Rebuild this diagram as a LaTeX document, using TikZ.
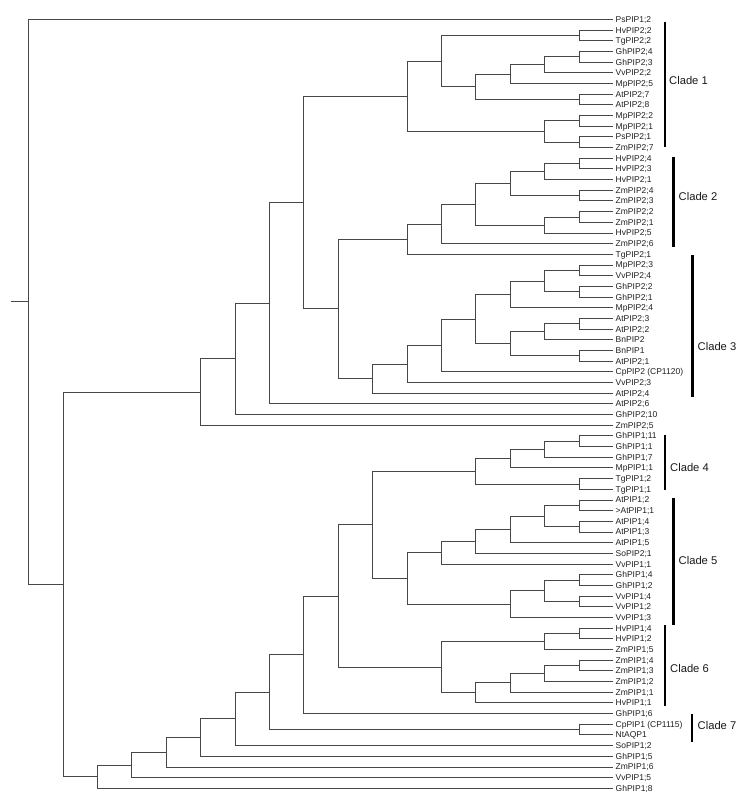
\documentclass[tikz,border=0pt]{standalone}
\usepackage{fontspec}
\setmainfont{Liberation Sans}
\usetikzlibrary{calc}
\tikzset{
  br/.style={draw=black!72, line width=0.75pt},
  leaf/.style={anchor=west, inner xsep=2.5pt, inner ysep=0pt, text height=6.1pt, text depth=0pt,
               font=\fontsize{8.5}{9}\selectfont, text=black!88},
  cbar/.style={draw=black, line width=2.6pt},
  clab/.style={anchor=west, inner sep=0pt, font=\fontsize{11.2}{13}\selectfont, text=black!90},
}
\newcommand\jn[4]{%
  \coordinate (tmp) at ($(#3)!.5!(#4)$);
  \coordinate (#1) at (tmp -| #2);
  \draw[br] (#1) |- (#3);
  \draw[br] (#1) |- (#4);
}
\begin{document}
\begin{tikzpicture}[x=1pt,y=-1pt]
\useasboundingbox (0,0) rectangle (750,800);
\foreach \k in {0,...,16} \coordinate (L\k) at ({28.5+34.4*\k},0);
\coordinate (S) at (11,0);
\foreach \t [count=\i] in {PsPIP1;2, HvPIP2;2, TgPIP2;2, GhPIP2;4, GhPIP2;3, VvPIP2;2, MpPIP2;5,
  AtPIP2;7, AtPIP2;8, MpPIP2;2, MpPIP2;1, PsPIP2;1, ZmPIP2;7, HvPIP2;4, HvPIP2;3, HvPIP2;1,
  ZmPIP2;4, ZmPIP2;3, ZmPIP2;2, ZmPIP2;1, HvPIP2;5, ZmPIP2;6, TgPIP2;1, MpPIP2;3, VvPIP2;4,
  GhPIP2;2, GhPIP2;1, MpPIP2;4, AtPIP2;3, AtPIP2;2, BnPIP2, BnPIP1, AtPIP2;1, CpPIP2 (CP1120),
  VvPIP2;3, AtPIP2;4, AtPIP2;6, GhPIP2;10, ZmPIP2;5, GhPIP1;11, GhPIP1;1, GhPIP1;7, MpPIP1;1,
  TgPIP1;2, TgPIP1;1, AtPIP1;2, >AtPIP1;1, AtPIP1;4, AtPIP1;3, AtPIP1;5, SoPIP2;1, VvPIP1;1,
  GhPIP1;4, GhPIP1;2, VvPIP1;4, VvPIP1;2, VvPIP1;3, HvPIP1;4, HvPIP1;2, ZmPIP1;5, ZmPIP1;4,
  ZmPIP1;3, ZmPIP1;2, ZmPIP1;1, HvPIP1;1, GhPIP1;6, CpPIP1 (CP1115), NtAQP1, SoPIP1;2,
  GhPIP1;5, ZmPIP1;6, VvPIP1;5, GhPIP1;8}
  \node[leaf] (l\i) at (613,{19.3+10.68*(\i-1)}) {\t};

% Clade 1
\jn{c1a}{L16}{l2.west}{l3.west}
\jn{c1b}{L16}{l4.west}{l5.west}
\jn{c1c}{L15}{c1b}{l6.west}
\jn{c1d}{L14}{c1c}{l7.west}
\jn{c1e}{L16}{l8.west}{l9.west}
\jn{c1f}{L13}{c1d}{c1e}
\jn{c1g}{L12}{c1a}{c1f}
\jn{c1h}{L16}{l10.west}{l11.west}
\jn{c1i}{L16}{l12.west}{l13.west}
\jn{c1j}{L15}{c1h}{c1i}
\jn{c1}{L11}{c1g}{c1j}
% Clade 2
\jn{c2a}{L16}{l14.west}{l15.west}
\jn{c2b}{L15}{c2a}{l16.west}
\jn{c2c}{L16}{l17.west}{l18.west}
\jn{c2d}{L14}{c2b}{c2c}
\jn{c2e}{L16}{l19.west}{l20.west}
\jn{c2f}{L15}{c2e}{l21.west}
\jn{c2g}{L13}{c2d}{c2f}
\jn{c2h}{L12}{c2g}{l22.west}
\jn{c2}{L11}{c2h}{l23.west}
% Clade 3
\jn{c3a}{L16}{l24.west}{l25.west}
\jn{c3b}{L16}{l26.west}{l27.west}
\jn{c3c}{L15}{c3a}{c3b}
\jn{c3d}{L14}{c3c}{l28.west}
\jn{c3e}{L16}{l29.west}{l30.west}
\jn{c3f}{L15}{c3e}{l31.west}
\jn{c3g}{L16}{l32.west}{l33.west}
\jn{c3h}{L14}{c3f}{c3g}
\jn{c3i}{L13}{c3d}{c3h}
\jn{c3j}{L12}{c3i}{l34.west}
\jn{c3k}{L11}{c3j}{l35.west}
\jn{c3}{L10}{c3k}{l36.west}
% upper backbone
\jn{u9}{L9}{c2}{c3}
\jn{u8}{L8}{c1}{u9}
\jn{u7}{L7}{u8}{l37.west}
\jn{u6}{L6}{u7}{l38.west}
\jn{u5}{L5}{u6}{l39.west}
% Clade 4
\jn{c4a}{L16}{l40.west}{l41.west}
\jn{c4b}{L15}{c4a}{l42.west}
\jn{c4c}{L14}{c4b}{l43.west}
\jn{c4d}{L16}{l44.west}{l45.west}
\jn{c4}{L13}{c4c}{c4d}
% Clade 5
\jn{c5a}{L16}{l46.west}{l47.west}
\jn{c5b}{L16}{l48.west}{l49.west}
\jn{c5c}{L15}{c5a}{c5b}
\jn{c5d}{L14}{c5c}{l50.west}
\jn{c5e}{L13}{c5d}{l51.west}
\jn{c5f}{L12}{c5e}{l52.west}
\jn{c5g}{L16}{l53.west}{l54.west}
\jn{c5h}{L16}{l55.west}{l56.west}
\jn{c5i}{L15}{c5g}{c5h}
\jn{c5j}{L14}{c5i}{l57.west}
\jn{c5}{L11}{c5f}{c5j}
\jn{k45}{L10}{c4}{c5}
% Clade 6
\jn{c6a}{L16}{l58.west}{l59.west}
\jn{c6b}{L15}{c6a}{l60.west}
\jn{c6c}{L16}{l61.west}{l62.west}
\jn{c6d}{L15}{c6c}{l63.west}
\jn{c6e}{L14}{c6d}{l64.west}
\jn{c6f}{L13}{c6e}{l65.west}
\jn{c6}{L12}{c6b}{c6f}
% lower backbone
\jn{nj}{L9}{k45}{c6}
\jn{ni}{L8}{nj}{l66.west}
\jn{c7}{L16}{l67.west}{l68.west}
\jn{nh}{L7}{ni}{c7}
\jn{ng}{L6}{nh}{l69.west}
\jn{nf}{L5}{ng}{l70.west}
\jn{ne}{L4}{nf}{l71.west}
\jn{nd}{L3}{ne}{l72.west}
\jn{nc}{L2}{nd}{l73.west}
\jn{na}{L1}{u5}{nc}
\jn{root}{L0}{l1.west}{na}
\draw[br] (root) -- (root -| S);

% clade bars and labels
\draw[cbar] (665,21.7) -- (665,146.7);
\node[clab] (cl1) at (669,80) {Clade 1};
\draw[cbar] (673.3,156.7) -- (673.3,246.7);
\node[clab] (cl2) at (678.5,196.7) {Clade 2};
\draw[cbar] (692.3,255) -- (692.3,396.7);
\node[clab] (cl3) at (697.5,346.7) {Clade 3};
\draw[cbar] (665,435) -- (665,490);
\node[clab] (cl4) at (670,467.3) {Clade 4};
\draw[cbar] (673.3,498.3) -- (673.3,625);
\node[clab] (cl5) at (678.5,560) {Clade 5};
\draw[cbar] (665,625) -- (665,706);
\node[clab] (cl6) at (670,668.3) {Clade 6};
\draw[cbar] (692,714) -- (692,741.7);
\node[clab] (cl7) at (697.5,725) {Clade 7};
\end{tikzpicture}
\end{document}
